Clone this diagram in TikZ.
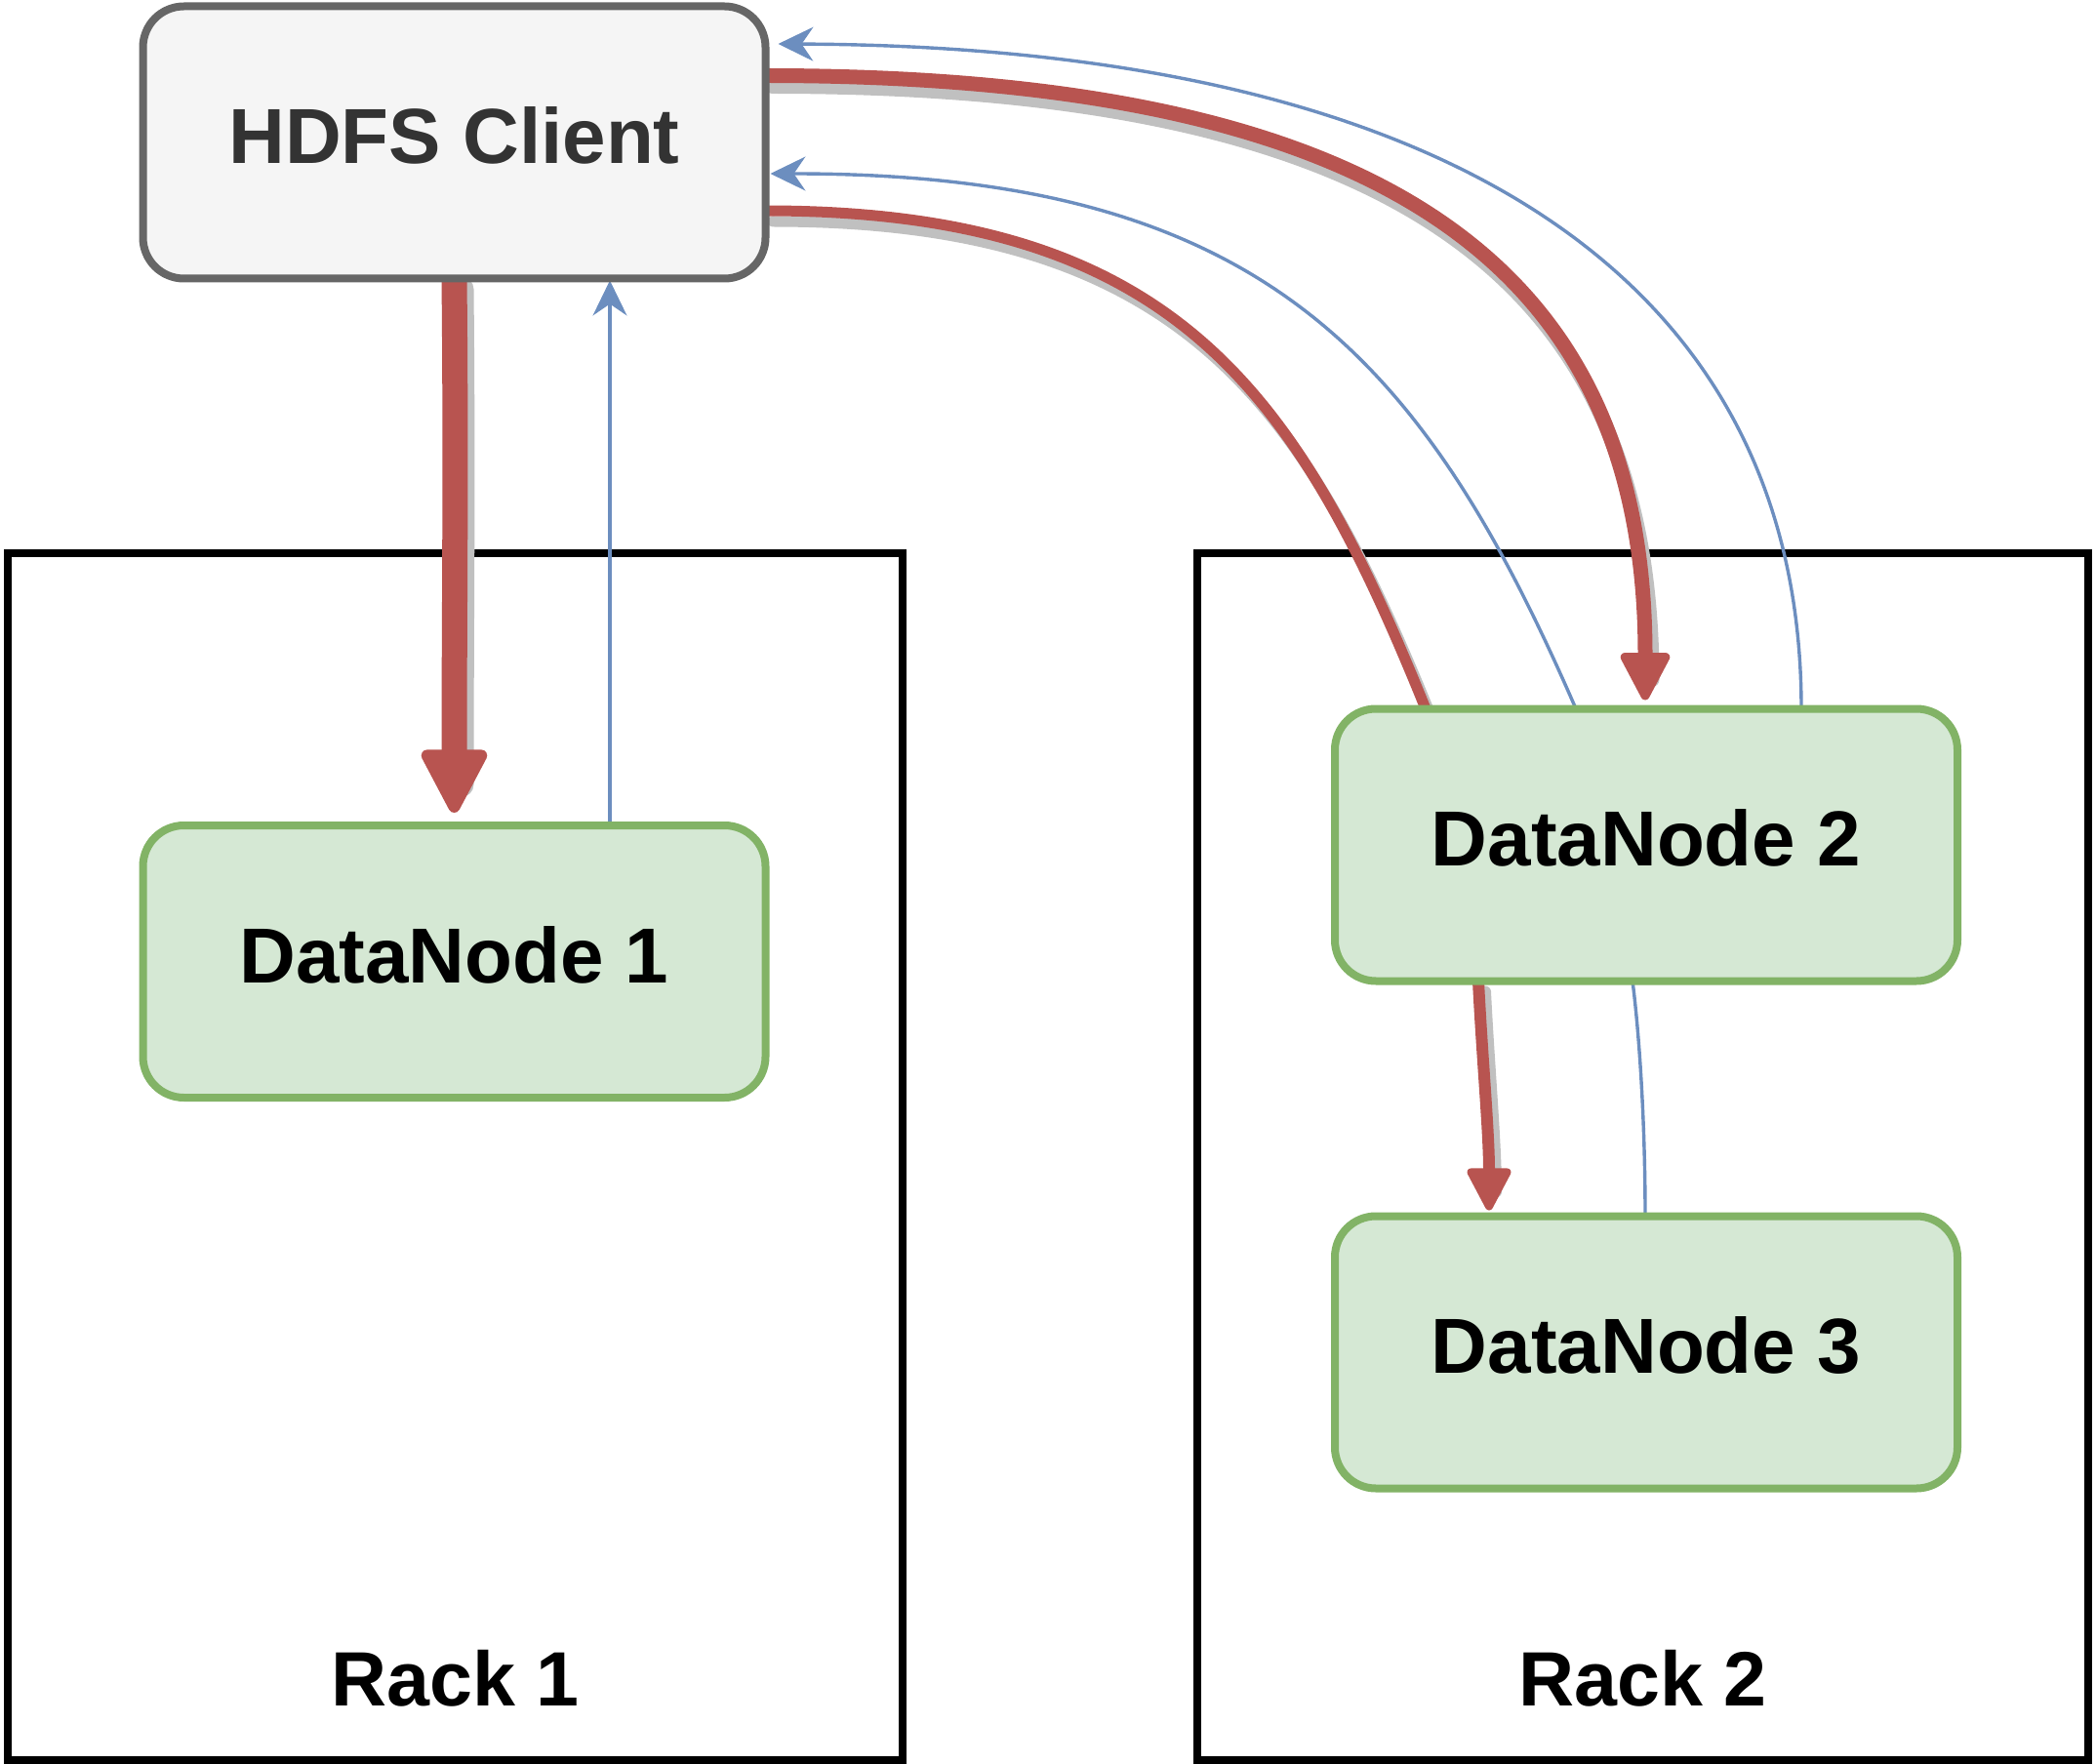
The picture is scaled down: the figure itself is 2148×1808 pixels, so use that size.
\documentclass[tikz,border=0pt]{standalone}
\usepackage{fontspec}
\setmainfont{Liberation Sans}
\usetikzlibrary{arrows.meta,calc}
\definecolor{hred}{HTML}{B85450}
\definecolor{hblue}{HTML}{6C8EBF}
\definecolor{dnfill}{HTML}{D5E8D4}
\definecolor{dnborder}{HTML}{82B366}
\definecolor{clfill}{HTML}{F5F5F5}
\definecolor{clborder}{HTML}{666666}
\definecolor{cltext}{HTML}{333333}
\definecolor{shadowgray}{HTML}{C0C0C0}
\pgfdeclarelayer{bg}
\pgfdeclarelayer{edges}
\pgfsetlayers{bg,edges,main}
\tikzset{
  box/.style={rectangle, rounded corners=21pt, minimum width=319pt, minimum height=139.5pt,
    inner sep=0pt, outer sep=0pt, line width=4pt, text depth=7pt,
    font=\fontsize{40pt}{48pt}\selectfont\bfseries},
  clientbox/.style={box, draw=clborder, fill=clfill, text=cltext},
  databox/.style={box, draw=dnborder, fill=dnfill, text=black},
  rackbox/.style={rectangle, draw=black, line width=4pt, inner sep=0pt, outer sep=0pt,
    minimum height=618.5pt},
  racklabel/.style={anchor=base, inner sep=0pt, text=black,
    font=\fontsize{39.5pt}{48pt}\selectfont\bfseries},
  redline/.style={draw=hred, line cap=round, line join=round},
  shadowline/.style={draw=shadowgray, line cap=round, transform canvas={xshift=3.5pt,yshift=-5.5pt}},
  blueline/.style={draw=hblue, line width=1.7pt},
  redtip/.style 2 args={-{Triangle[length=#1,width=#1,round,line width'=#2]}},
  bluetip/.style={-{Stealth[length=18pt,width=17.5pt,inset=6pt,line width'=0.5pt]}},
}
\begin{document}
\begin{tikzpicture}[x=0.5pt,y=-0.5pt]
\useasboundingbox (0,0) rectangle (2148,1808);
% boxes
\node[clientbox] (client) at (465.5,146) {HDFS Client};
\node[databox] (dn1) at (465.5,985.5) {DataNode 1};
\node[databox] (dn2) at (1687,866) {DataNode 2};
\node[databox] (dn3) at (1687,1386) {DataNode 3};
% racks
\begin{pgfonlayer}{bg}
\node[rackbox, minimum width=458.5pt] (rack1) at (466.5,1185.5) {};
\node[rackbox, minimum width=456.5pt] (rack2) at (1683.5,1185.5) {};
\node[racklabel] (rack1label) at ($(rack1.south)+(0,-56)$) {Rack 1};
\node[racklabel] (rack2label) at ($(rack2.south)+(0,-56)$) {Rack 2};
\end{pgfonlayer}
% connectors
\begin{pgfonlayer}{edges}
% client -> dn1 (red)
\draw[shadowline, line width=13pt, shorten >=20pt] (client.south)
  .. controls +(2,200) and +(0,-200) .. ($(dn1.north)+(0,-13)$);
\draw[redline, line width=13pt, redtip={36pt}{6pt}] (client.south)
  .. controls +(2,200) and +(0,-200) .. ($(dn1.north)+(0,-13)$);
% dn1 -> client (blue)
\draw[blueline, bluetip] ($(dn1.north)+(159.5,0)$) -- ($(client.south)+(159.5,2)$);
% client -> dn2 (red, top)
\draw[shadowline, line width=7.5pt, shorten >=16pt] ($(client.east)+(0,-68.5)$)
  .. controls +(632,0) and +(0,-447) .. ($(dn2.north)+(-1,-9)$);
\draw[redline, line width=7.5pt, redtip={27pt}{4.5pt}] ($(client.east)+(0,-68.5)$)
  .. controls +(632,0) and +(0,-447) .. ($(dn2.north)+(-1,-9)$);
% dn2 -> client (blue, outer)
\draw[blueline, bluetip] ($(dn2.north)+(159,0)$)
  .. controls +(0,-444) and +(681,3) .. ($(client.east)+(13,-101)$);
% client -- dn2 (red, lower)
\draw[shadowline, line width=5.5pt] ($(client.east)+(0,70)$)
  .. controls +(421,0) and +(-131,-324) .. ($(dn2.north)+(-226,0)$);
\draw[redline, line width=5.5pt] ($(client.east)+(0,70)$)
  .. controls +(421,0) and +(-131,-324) .. ($(dn2.north)+(-226,0)$);
% dn2 -> client (blue, inner)
\draw[blueline, bluetip] ($(dn2.north)+(-72,0)$)
  .. controls +(-158,-364) and +(501,0) .. ($(client.east)+(5,32)$);
% dn2 -> dn3 (red)
\draw[shadowline, line width=6pt, shorten >=15pt] ($(dn2.south)+(-172,0)$)
  .. controls +(4,80) and +(0,-80) .. ($(dn3.north)+(-161,-6)$);
\draw[redline, line width=6pt, redtip={24pt}{4pt}] ($(dn2.south)+(-172,0)$)
  .. controls +(4,80) and +(0,-80) .. ($(dn3.north)+(-161,-6)$);
% dn3 -- dn2 (blue)
\draw[blueline] ($(dn3.north)+(-1,0)$)
  .. controls +(0,-96) and +(7,54) .. ($(dn2.south)+(-14,0)$);
\end{pgfonlayer}
\end{tikzpicture}
\end{document}
